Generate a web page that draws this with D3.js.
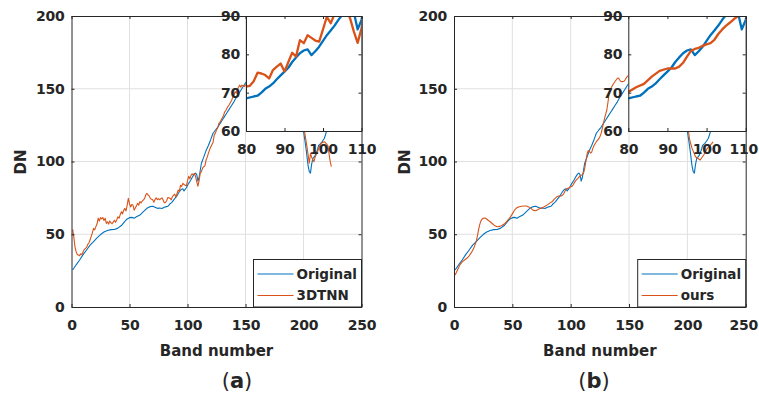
<!DOCTYPE html>
<html>
<head>
<meta charset="utf-8">
<script src="https://cdn.jsdelivr.net/npm/d3@7"></script>
<style>
  html, body { margin: 0; padding: 0; background: #fff; }
  svg { display: block; }
  text { font-family: "DejaVu Sans", sans-serif; fill: #262626; }
</style>
</head>
<body>
<svg id="chart" width="759" height="397"></svg>
<script>
// ---------------- DATA ----------------
const xTicks = [0, 50, 100, 150, 200, 250];
const yTicks = [0, 50, 100, 150, 200];
const insetXTicks = [80, 90, 100, 110];
const insetYTicks = [60, 70, 80, 90];
const panelCaptions = ["a", "b"];
const legendLabelsA = ["Original", "3DTNN"];
const legendLabelsB = ["Original", "ours"];

// Original spectrum (same in both panels)
const bandsOriginal = [1,4,7,10,13,16,19,22,25,28,31,34,37,40,43,46,48,50,52,54,56,59,62,65,68,70,72,74,76,78,
  80,82,83,84,85,86,87,88,89,90,91,92,93,94,95,96,97,98,99,100,101,102,103,104,105,106,107,108,109,110,
  111,112,114,116,118,120,122,124,126,128,130,132,134,136,138,140,142,144,146,148,150,152,155,160,165,170,175,180,185,190,
  195,198,200,202,204,205,206,207,208,210,212,213,215,216,218,220,222,224];
const dnOriginal = [25.4,29,32.3,36,39.2,42.5,45,47.5,49.8,51.5,52.6,53.2,53.3,54.2,56,58.8,60.5,61.4,61.6,61,62,63.2,65.5,67.8,69,69.2,68.5,67.8,68,67.7,
  68.5,69,69.2,70,71,71.6,72.4,73.5,74.5,75.5,76.5,78,79.2,80.3,81,81.3,79.8,80.8,82,83.5,85,86.2,87.5,89,90.3,91.5,92,91,86.5,89,
  94,98.8,103,107.5,111,115,119.4,121.5,123.5,126,128.5,131,133.5,136,138.5,141,144,146.5,149,151.5,154,156,159,163,166,170,172,174,175,172,
  160,140,121,110,97,93,92,98,102,104,108,111,112.5,113.6,116,121,126,130];

// 3DTNN reconstruction (panel a)
const bands3DTNN = [1,2,3,4,5,6,7,8,9,10,11,12,13,14,15,16,17,18,19,20,21,22,23,24,25,26,27,28,29,30,
  31,32,33,34,35,36,37,38,39,40,41,42,43,44,45,46,47,48,49,50,51,52,53,54,55,56,57,58,59,60,
  61,62,63,64,65,66,67,68,69,70,71,72,73,74,75,76,77,78,79,80,81,82,83,84,85,86,87,88,89,90,
  91,92,93,94,95,96,97,98,99,100,101,102,103,104,105,106,107,108,109,110,111,112,113,114,115,116,117,118,119,120,
  121,122,123,124,125,126,127,128,129,130,131,132,133,134,135,136,137,138,139,140,141,142,143,144,145,146,147,148,149,150,
  155,160,170,180,190,195,198,201,203,205,206,207,209,210,212,215,218,220,221,222,223,224];
const dn3DTNN = [53.4,48,41.4,38,36,35.7,35.3,36.6,36,38,39.5,40.3,41,43,44,46,48.5,51,54,53,55.2,57,61,59,61.5,60.6,61.5,59.5,61,57.5,
  58.5,57,59.1,58,57.2,58.3,59.6,58.2,60,62,61,63.5,65.5,64,66.5,67.8,66,70,74.7,71,68.7,70.5,70,66.5,68,69.5,71.3,70,72.5,71.5,
  72.8,73.7,74.5,77,78.1,77,76.4,74.5,74,73.7,72,74,75,73.8,74.5,73.7,74.5,75,73.5,71.6,71.8,73,75.2,75,74.6,73.7,75.9,76.8,77.6,75.5,
  78,80.4,79.4,83.7,82.9,85,84.3,83.6,83.3,86.5,89.8,88.1,90.5,91.5,91,91.8,89.5,86,83,86.8,92,93,95.5,96.4,97,101,103,105.6,108,110,
  111.5,113,118,119.5,121.6,123,126,127,128.5,130,131.5,134,135,136.6,138,139,140.5,142,144,145.5,148,147,149.5,151,152.6,151,152.5,152,151.5,152.6,
  158,160,165,170,168,155,138,120,110,98.8,105.6,103,99.9,103,106.7,112.5,113.6,112,111,105.6,100,96.4];

// "ours" reconstruction (panel b)
const bandsOurs = [1,3,5,7,9,11,13,15,17,19,20,21,22,23,24,25,26,27,28,29,31,33,35,37,39,41,43,45,47,48,
  50,52,54,56,58,60,62,64,66,68,70,72,74,76,78,80,82,84,86,88,90,92,93,94,95,96,97,98,99,100,
  101,102,103,104,105,106,107,108,109,110,111,112,113,114,115,116,117,118,119,120,122,124,125,126,127,128,129,130,131,132,
  133,134,135,136,138,140,141,142,143,144,145,146,147,148,150,155,160,170,180,190,195,198,200,201,202,204,207,211,214,217,221,222];
const dnOurs = [22,25.5,28.9,31,32.3,33.5,35.2,37.5,40.5,45,48.5,52.9,56.5,59,60.3,61,61.2,61,60.5,59.8,58.6,57.2,55.8,55.2,55.4,56,57,58.6,60.5,61.4,
  64,66.7,68.3,68.9,69.2,69.4,69.4,68.8,67.8,66.4,66.2,67,67.8,68.3,69.2,70.2,71.4,72.3,74.2,75.7,76.3,76.3,76.8,77.8,79.4,80.9,81.4,81.7,82.2,82.6,
  82.9,83.8,85.3,86.5,87.5,88.3,89.2,89.9,90.5,91,92,95,100,105,107.5,107,105.8,106.5,109,111,113.6,115.5,117,119,122.5,126,129.5,132.5,135.4,141,
  147,149.5,151,152.6,155,157.2,157.4,156,155,154.9,155,155.3,156.5,158,159.5,161,163,167,171,168,155,138,125,120.5,114.8,109,103.3,101,104.5,109,112.5,113.5];

// ---------------- LAYOUT ----------------
const svg = d3.select("#chart");
const COL_BLUE = "#0072BD", COL_ORANGE = "#D95319", AX = "#262626", GRID = "#e0e0e0";
const TICK_FS = "14px";
const W = 759;

const panels = [
  { x0: 71.5, x1: 361.5, ix0: 246, caption: panelCaptions[0], capX: 237, labels: legendLabelsA,
    series: [[bandsOriginal, dnOriginal, COL_BLUE], [bands3DTNN, dn3DTNN, COL_ORANGE]] },
  { x0: 454, x1: 745.7, ix0: 628.3, caption: panelCaptions[1], capX: 594, labels: legendLabelsB,
    series: [[bandsOriginal, dnOriginal, COL_BLUE], [bandsOurs, dnOurs, COL_ORANGE]] }
];
const yTop = 16, yBot = 307, iyBot = 131;

function styleAxis(a) {
  a.select(".domain").attr("stroke", AX).attr("stroke-width", 1);
  a.selectAll(".tick line").attr("stroke", AX);
  a.selectAll(".tick text").attr("fill", AX).attr("font-family", "DejaVu Sans")
    .attr("font-weight", "bold").attr("font-size", TICK_FS).attr("letter-spacing", "-0.2px");
}

panels.forEach((p, pi) => {
  const g = svg.append("g");
  const x = d3.scaleLinear().domain([0, 250]).range([p.x0, p.x1]);
  const y = d3.scaleLinear().domain([0, 200]).range([yBot, yTop]);

  const clipId = "clipMain" + pi;
  svg.append("clipPath").attr("id", clipId).append("rect")
    .attr("x", p.x0).attr("y", yTop).attr("width", p.x1 - p.x0).attr("height", yBot - yTop);

  // grid
  g.append("g").selectAll("line").data(xTicks.slice(1, -1)).join("line")
    .attr("x1", d => x(d)).attr("x2", d => x(d)).attr("y1", yTop).attr("y2", yBot)
    .attr("stroke", GRID).attr("stroke-width", 1);
  g.append("g").selectAll("line").data(yTicks.slice(1, -1)).join("line")
    .attr("y1", d => y(d)).attr("y2", d => y(d)).attr("x1", p.x0).attr("x2", p.x1)
    .attr("stroke", GRID).attr("stroke-width", 1);

  // lines
  const lg = g.append("g").attr("clip-path", `url(#${clipId})`);
  p.series.forEach(([bx, by, col]) => {
    const pts = bx.map((b, i) => [b, by[i]]);
    lg.append("path").datum(pts)
      .attr("d", d3.line().x(d => x(d[0])).y(d => y(d[1])))
      .attr("fill", "none").attr("stroke", col).attr("stroke-width", 1.1)
      .attr("stroke-linejoin", "round");
  });

  // axes box, ticks inside
  const axB = g.append("g").attr("transform", `translate(0,${yBot})`)
    .call(d3.axisBottom(x).tickValues(xTicks).tickSizeInner(-3).tickSizeOuter(0).tickPadding(13));
  const axL = g.append("g").attr("transform", `translate(${p.x0},0)`)
    .call(d3.axisLeft(y).tickValues(yTicks).tickSizeInner(-3).tickSizeOuter(0).tickPadding(7));
  const axT = g.append("g").attr("transform", `translate(0,${yTop})`)
    .call(d3.axisTop(x).tickValues(xTicks).tickSizeInner(-3).tickSizeOuter(0).tickFormat(""));
  const axR = g.append("g").attr("transform", `translate(${p.x1},0)`)
    .call(d3.axisRight(y).tickValues(yTicks).tickSizeInner(-3).tickSizeOuter(0).tickFormat(""));
  [axB, axL, axT, axR].forEach(styleAxis);

  // axis labels
  g.append("text").attr("x", (p.x0 + p.x1) / 2).attr("y", 356).attr("text-anchor", "middle")
    .attr("font-size", "15px").attr("font-weight", "bold").text("Band number");
  const ylx = pi === 0 ? 20 : 404;
  g.append("text").attr("transform", `translate(${ylx + 5.5},162) rotate(-90)`).attr("text-anchor", "middle")
    .attr("font-size", "15px").attr("font-weight", "bold").text("DN");

  // legend
  const legX0 = p.x1 - 108, legY0 = 259.5;
  const leg = g.append("g");
  leg.append("rect").attr("x", legX0).attr("y", legY0).attr("width", 108).attr("height", yBot - legY0)
    .attr("fill", "#fff").attr("stroke", AX).attr("stroke-width", 1);
  p.series.forEach(([, , col], i) => {
    const cy = 274 + i * 21.5;
    leg.append("line").attr("x1", legX0 + 4).attr("x2", legX0 + 40).attr("y1", cy).attr("y2", cy)
      .attr("stroke", col).attr("stroke-width", 1.1);
    leg.append("text").attr("x", legX0 + 43).attr("y", cy).attr("dy", "0.36em")
      .attr("font-size", "13.5px").attr("font-weight", "bold").text(p.labels[i]);
  });

  // inset
  const ix = d3.scaleLinear().domain([80, 110]).range([p.ix0, p.x1]);
  const iy = d3.scaleLinear().domain([60, 90]).range([iyBot, yTop]);
  const ig = g.append("g");
  ig.append("rect").attr("x", p.ix0).attr("y", yTop).attr("width", p.x1 - p.ix0).attr("height", iyBot - yTop)
    .attr("fill", "#fff");
  const clipI = "clipInset" + pi;
  svg.append("clipPath").attr("id", clipI).append("rect")
    .attr("x", p.ix0).attr("y", yTop).attr("width", p.x1 - p.ix0).attr("height", iyBot - yTop);
  const ilg = ig.append("g").attr("clip-path", `url(#${clipI})`);
  p.series.forEach(([bx, by, col]) => {
    const pts = bx.map((b, i) => [b, by[i]]);
    ilg.append("path").datum(pts)
      .attr("d", d3.line().x(d => ix(d[0])).y(d => iy(d[1])))
      .attr("fill", "none").attr("stroke", col).attr("stroke-width", 2.3)
      .attr("stroke-linejoin", "round");
  });
  const iaB = ig.append("g").attr("transform", `translate(0,${iyBot})`)
    .call(d3.axisBottom(ix).tickValues(insetXTicks).tickSizeInner(-3).tickSizeOuter(0).tickPadding(13));
  const iaL = ig.append("g").attr("transform", `translate(${p.ix0},0)`)
    .call(d3.axisLeft(iy).tickValues(insetYTicks).tickSizeInner(-3).tickSizeOuter(0).tickPadding(6));
  const iaT = ig.append("g").attr("transform", `translate(0,${yTop})`)
    .call(d3.axisTop(ix).tickValues(insetXTicks).tickSizeInner(-3).tickSizeOuter(0).tickFormat(""));
  const iaR = ig.append("g").attr("transform", `translate(${p.x1},0)`)
    .call(d3.axisRight(iy).tickValues(insetYTicks).tickSizeInner(-3).tickSizeOuter(0).tickFormat(""));
  [iaB, iaL, iaT, iaR].forEach(styleAxis);

  // caption
  const cap = g.append("text").attr("x", p.capX).attr("y", 388).attr("text-anchor", "middle")
    .attr("font-family", "DejaVu Serif").attr("font-size", "21px");
  cap.append("tspan").text("(");
  cap.append("tspan").attr("font-weight", "bold").text(p.caption);
  cap.append("tspan").text(")");
});

// keep edge tick labels inside the picture
svg.selectAll(".tick text").each(function () {
  const r = this.getBoundingClientRect();
  const over = r.right - (W - 0.5);
  if (over > 0) d3.select(this).attr("dx", -over);
});
</script>
</body>
</html>
